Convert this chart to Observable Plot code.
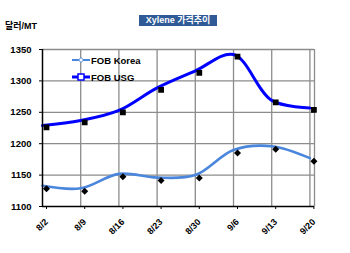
<!DOCTYPE html>
<html><head><meta charset="utf-8">
<script src="https://cdn.jsdelivr.net/npm/d3@7"></script>
<script src="https://cdn.jsdelivr.net/npm/@observablehq/plot@0.6"></script>
<style>
body{margin:0;background:#fff;}
#wrap{position:relative;width:350px;height:253px;overflow:hidden;font-family:"Liberation Sans",Arial,"Noto Sans CJK KR",sans-serif;}
#title{position:absolute;left:139px;top:15px;width:78px;height:11px;background:#2f5a96;color:#fff;font-size:9px;font-weight:bold;line-height:11px;text-align:center;white-space:nowrap;}
#ylab{position:absolute;left:5px;top:19px;font-size:9px;font-weight:bold;color:#000;}
.leg{position:absolute;left:72px;height:12px;font-size:9.5px;font-weight:bold;display:flex;align-items:center;}
.leg svg{margin-right:1px;}
#chart{position:absolute;left:0;top:0;}
</style></head>
<body>
<div id="wrap">
<div id="chart"></div>
<div id="title">Xylene 가격추이</div>
<div id="ylab">달러/MT</div>
<div class="leg" style="top:54px"><svg width="18" height="8"><line x1="0" y1="4" x2="18" y2="4" stroke="#4a86dc" stroke-width="2"/><path d="M9 1.5 L11.5 4 L9 6.5 L6.5 4 Z" fill="#fff" stroke="#4a86dc" stroke-width="1"/></svg>FOB Korea</div>
<div class="leg" style="top:71px"><svg width="18" height="8"><line x1="0" y1="4" x2="18" y2="4" stroke="#0000ff" stroke-width="3"/><rect x="6" y="1" width="6" height="6" fill="#fff" stroke="#0000ff" stroke-width="1.5"/></svg>FOB USG</div>
</div>
<script>
const dates = ["8/2","8/9","8/16","8/23","8/30","9/6","9/13","9/20"];
const korea = [1133, 1129, 1152, 1146, 1150, 1190, 1196, 1177];
const usg = [1229, 1237, 1253, 1289, 1316, 1342, 1269, 1257];
const yTicks = [1100, 1150, 1200, 1250, 1300, 1350];

const idx = dates.map((d, i) => i);
const kData = idx.map(i => ({i, v: korea[i]}));
const uData = idx.map(i => ({i, v: usg[i]}));

const chart = Plot.plot({
  width: 350,
  height: 253,
  marginLeft: 42,
  marginRight: 36,
  marginTop: 49,
  marginBottom: 47,
  style: {fontFamily: '"Liberation Sans", Arial, sans-serif', fontWeight: "bold", fontSize: "9.5px", color: "#000", background: "transparent"},
  x: {type: "linear", domain: [0, 7.12], axis: null, label: null},
  y: {domain: [1100, 1350], axis: null, label: null},
  marks: [
    Plot.ruleY(yTicks.slice(1), {stroke: "#8c8c8c", strokeWidth: 1.3, strokeOpacity: 1}),
    Plot.ruleX(idx.slice(1), {stroke: "#8c8c8c", strokeWidth: 1.3, strokeOpacity: 1}),
    Plot.ruleX([7.12], {stroke: "#8c8c8c", strokeWidth: 1.3}),
    Plot.line(kData, {x: "i", y: "v", curve: "catmull-rom", stroke: "#4a86dc", strokeWidth: 2.6}),
    Plot.line(uData, {x: "i", y: "v", curve: "catmull-rom", stroke: "#0000ff", strokeWidth: 3}),
    Plot.dot(kData, {x: "i", y: "v", symbol: "diamond2", r: 2.2, fill: "#000", stroke: "#000", dx: 4, dy: 3}),
    Plot.dot(uData, {x: "i", y: "v", symbol: "square", r: 2.4, fill: "#000", stroke: "#000", dx: 4, dy: 2}),
    Plot.ruleY([1100], {stroke: "#000", strokeWidth: 1.5}),
    Plot.ruleX([0], {stroke: "#000", strokeWidth: 1.5}),
    Plot.axisY(yTicks, {tickSize: 3, tickPadding: 8, stroke: "#000", fontWeight: "bold", fontSize: 9.5, label: null, tickFormat: d => String(d)}),
    Plot.axisX(idx, {tickSize: 3, tickPadding: 11, tickRotate: -45, tickFormat: i => dates[i], stroke: "#000", fontWeight: "bold", fontSize: 9, dx: 4, label: null})
  ]
});
document.getElementById("chart").appendChild(chart);
</script>
</body></html>
